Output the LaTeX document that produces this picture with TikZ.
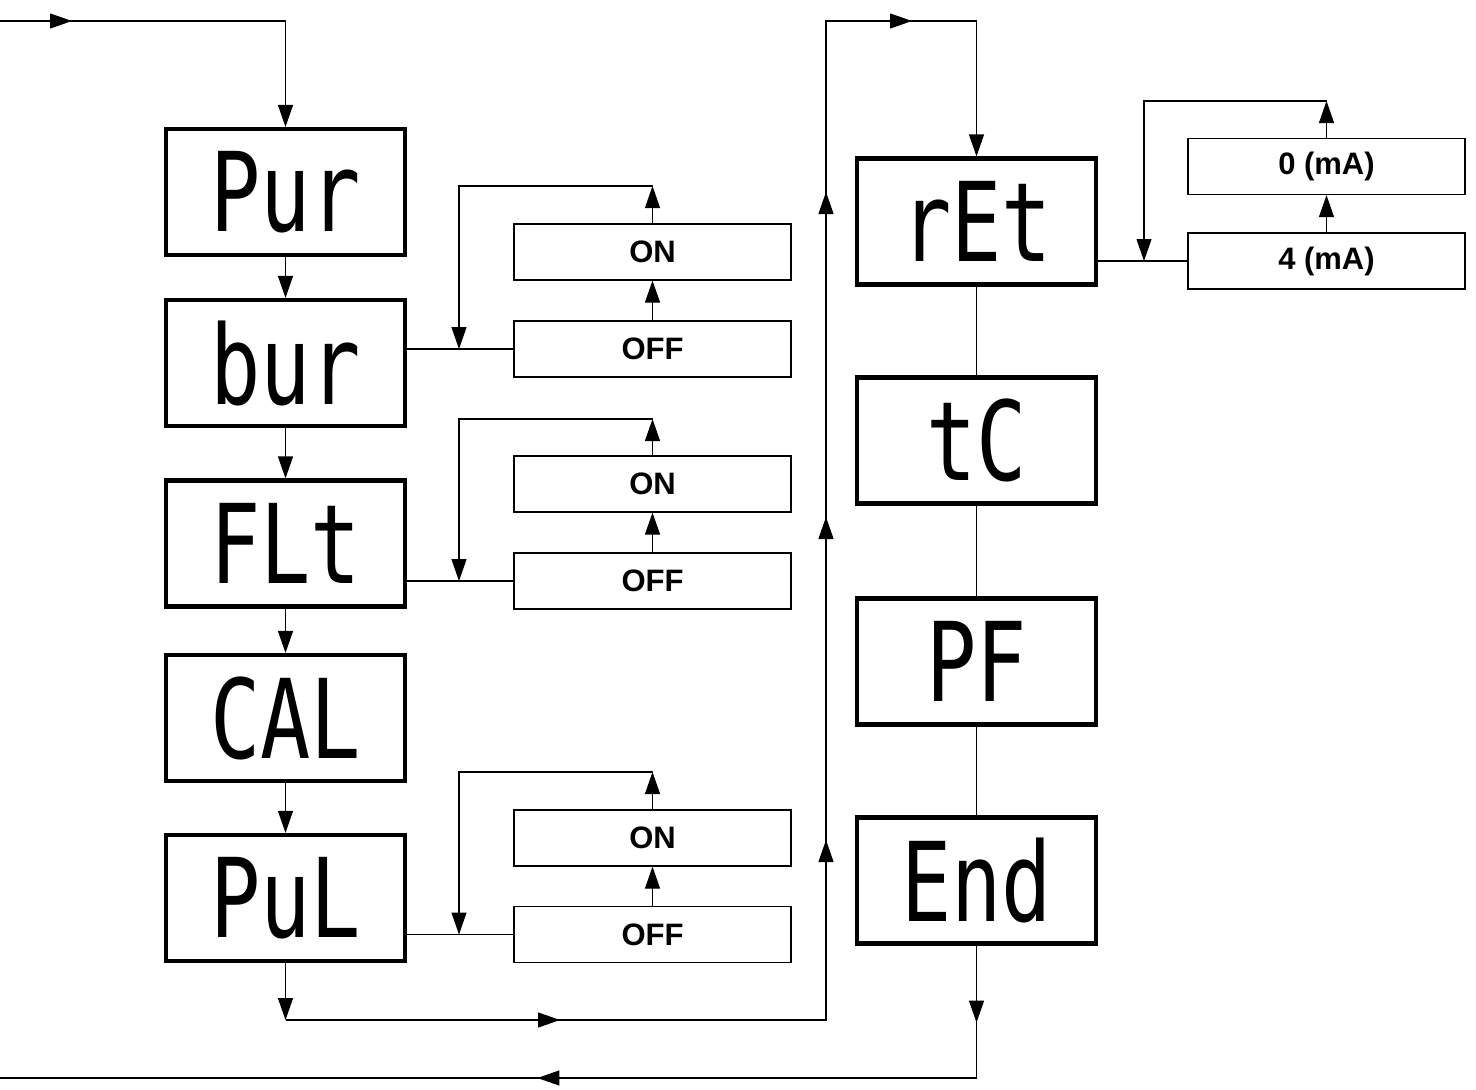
\documentclass[tikz,border=0pt]{standalone}
\usepackage{fontspec}
\setmainfont{Liberation Sans}
\newfontfamily\segfont{DejaVu Sans Mono}
\usetikzlibrary{arrows.meta,decorations.markings}
\newcommand{\seg}[1]{\scalebox{0.76}[1]{\segfont\fontsize{110}{110}\selectfont #1}}
\begin{document}
\begin{tikzpicture}[x=1pt,y=-1pt,
  disp/.style={draw,line width=4.2pt,minimum width=239pt,minimum height=126pt,inner sep=0pt},
  opt/.style={draw,line width=1.2pt,minimum width=277pt,minimum height=56pt,inner sep=0pt,
    font=\bfseries\fontsize{31}{31}\selectfont},
  conn/.style={line width=1.2pt},
  tip/.style={-{Triangle[length=22pt,width=15pt]}},
  arr/.style={conn,tip}
]
\useasboundingbox (0,0) rectangle (1476,1090);
% displays
\node[disp] (pur) at (285.5,192)   {\seg{Pur}};
\node[disp] (bur) at (285.5,363)   {\seg{bur}};
\node[disp] (flt) at (285.5,543.5) {\seg{FLt}};
\node[disp] (cal) at (285.5,718)   {\seg{CAL}};
\node[disp] (pul) at (285.5,898)   {\seg{PuL}};
\node[disp] (ret) at (976.5,221.5) {\seg{rEt}};
\node[disp] (tc)  at (976.5,440.5) {\seg{tC}};
\node[disp] (pf)  at (976.5,661.5) {\seg{PF}};
\node[disp] (end) at (976.5,880.5) {\seg{End}};
% options
\node[opt] (on1)  at (652.5,252)   {ON};
\node[opt] (off1) at (652.5,349)   {OFF};
\node[opt] (on2)  at (652.5,484)   {ON};
\node[opt] (off2) at (652.5,581)   {OFF};
\node[opt] (on3)  at (652.5,838)   {ON};
\node[opt] (off3) at (652.5,934.5) {OFF};
\node[opt] (ma0)  at (1326.5,166.5) {0 (mA)};
\node[opt] (ma4)  at (1326.5,261)   {4 (mA)};
% coordinates
\coordinate (in)  at (0,21);
\coordinate (in2) at (285.5,21);
\coordinate (c1) at (285.5,1020);
\coordinate (c2) at (826,1020);
\coordinate (c3) at (826,21);
\coordinate (c4) at (976.5,21);
\coordinate (e2) at (976.5,1078);
\coordinate (out) at (0,1078);
\coordinate (t1) at (652.5,186); \coordinate (l1) at (459,186); \coordinate (j1) at (459,349);
\coordinate (t2) at (652.5,419); \coordinate (l2) at (459,419); \coordinate (j2) at (459,581);
\coordinate (t3) at (652.5,772); \coordinate (l3) at (459,772); \coordinate (j3) at (459,934.5);
\coordinate (t4) at (1326.5,101); \coordinate (l4) at (1144,101); \coordinate (j4) at (1144,261);
% main flow
\draw[arr,postaction=decorate,decoration={markings,
  mark=at position 72pt with {\arrow{Triangle[length=22pt,width=15pt]}}}]
  (in) -- (in2) -- (pur.north);
\draw[arr] (pur.south) -- (bur.north);
\draw[arr] (bur.south) -- (flt.north);
\draw[arr] (flt.south) -- (cal.north);
\draw[arr] (cal.south) -- (pul.north);
\draw[arr] (pul.south) -- (c1);
\draw[arr,postaction=decorate,decoration={markings,
  mark=at position 274.5pt with {\arrow{Triangle[length=22pt,width=15pt]}},
  mark=at position 720.5pt with {\arrow{Triangle[length=22pt,width=15pt]}},
  mark=at position 1043.5pt with {\arrow{Triangle[length=22pt,width=15pt]}},
  mark=at position 1368.5pt with {\arrow{Triangle[length=22pt,width=15pt]}},
  mark=at position 1625.5pt with {\arrow{Triangle[length=22pt,width=15pt]}}}]
  (c1) -- (c2) -- (c3) -- (c4) -- (ret.north);
\draw[conn] (ret.south) -- (tc.north);
\draw[conn] (tc.south) -- (pf.north);
\draw[conn] (pf.south) -- (end.north);
\draw[conn,postaction=decorate,decoration={markings,
  mark=at position 77pt with {\arrow{Triangle[length=22pt,width=15pt]}},
  mark=at position 571.5pt with {\arrow{Triangle[length=22pt,width=15pt]}}}]
  (end.south) -- (e2) -- (out);
% option loops
\foreach \d/\on/\off/\t/\l/\j in {bur/on1/off1/t1/l1/j1, flt/on2/off2/t2/l2/j2, pul/on3/off3/t3/l3/j3, ret/ma0/ma4/t4/l4/j4}{
  \draw[conn] (\d.east |- \off.west) -- (\off.west);
  \draw[arr] (\off.north) -- (\on.south);
  \draw[arr] (\on.north) -- (\t);
  \draw[arr] (\t) -- (\l) -- (\j);
}
\end{tikzpicture}
\end{document}
